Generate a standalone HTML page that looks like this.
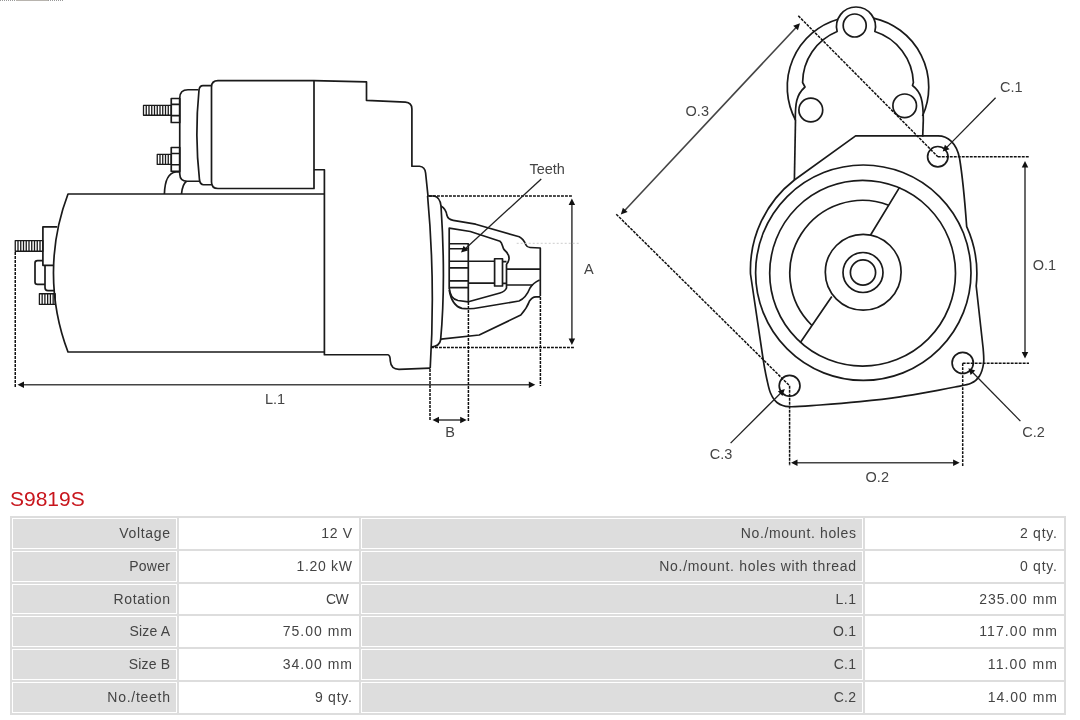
<!DOCTYPE html>
<html><head><meta charset="utf-8">
<style>
html,body{margin:0;padding:0;background:#fff;width:1080px;height:720px;overflow:hidden;}
body{position:relative;font-family:"Liberation Sans",sans-serif;}
svg.draw{position:absolute;left:0;top:0;will-change:transform;}
svg.draw path, svg.draw circle, svg.draw rect{fill:none;stroke:#1a1a1a;stroke-width:1.7;stroke-linejoin:round;}
svg.draw .th{stroke-width:1.3;}
svg.draw .dot{stroke:#111;stroke-width:1.5;stroke-dasharray:2.9 1.1;}
svg.draw .dim{stroke:#444;stroke-width:1.6;}
svg.draw .lead{stroke:#222;stroke-width:1.3;}
svg.draw .ah{fill:#111;stroke:none;}
svg.draw .faint{stroke:#ccc;stroke-width:1;stroke-dasharray:2 2;}
svg.draw text{font-family:"Liberation Sans",sans-serif;font-size:14.5px;fill:#444;}
.title{will-change:transform;position:absolute;left:10px;top:486.5px;font-size:21px;color:#c8161d;line-height:24px;white-space:nowrap;}
table{will-change:transform;position:absolute;left:10px;top:516px;width:1056px;border-collapse:separate;border-spacing:2px;background:#ddd;}
td{border:1px solid #fff;padding:6px 6px;line-height:16.8px;font-size:14px;color:#444;text-align:right;white-space:nowrap;}
td.l{background:#ddd;}
td.v{background:#fff;}
td.c1{width:151px;} td.c2{width:166px;} td.c3{width:488px;} td.c4{width:185px;}
</style></head><body>
<svg class="draw" width="1080" height="500" viewBox="0 0 1080 500">
<path d="M324.4,194 H68 A222,222 0 0 0 68,352 H324.4"/>
<path d="M314,80.6 L366.5,81.9 V100.4 L405.4,102.1 Q411.9,102.5 411.9,109 V166.25 H419.5 Q425,166.8 425.6,173 L428,196"/>
<path d="M314,169.75 H324.4 V354.75 H388 Q390.2,355.2 390.3,361 Q391,369.3 399,369.4 L430.2,368.2"/>
<path d="M427.6,196 Q435.5,282 430.2,368.2"/>
<path d="M427.6,196 H434 Q440,197 441,206 Q446,282 440.6,340 Q439.5,346.5 431,347"/>
<path d="M314,80.6 H218 Q211.5,80.6 211.5,87 V182 Q211.5,188.5 218,188.5 H314 V80.6"/>
<path d="M211.5,85.6 H203 Q199.5,85.6 199,90 Q194.5,135 199.5,180 Q200.3,184.75 203.5,184.75 H211.5"/>
<path d="M198.4,89.75 H188 Q179.75,89.75 179.75,98 V174 Q180,181.25 187,181.25 H199"/>
<path d="M171.25,98.5 H179.75 V122.5 H171.25 Z M171.25,104.4 H179.75 M171.25,115.6 H179.75"/>
<path d="M171.25,147.5 H179.75 V171.25 H171.25 Z M171.25,153.5 H179.75 M171.25,164.75 H179.75"/>
<rect class="th" x="143.5" y="105.4" width="27.75" height="9.85"/>
<path class="th" d="M146.25,105.4 V115.25 M149,105.4 V115.25 M151.75,105.4 V115.25 M154.5,105.4 V115.25 M157.25,105.4 V115.25 M160,105.4 V115.25 M162.75,105.4 V115.25 M165.5,105.4 V115.25 M168.25,105.4 V115.25 "/>
<rect class="th" x="157.25" y="154.4" width="14" height="10"/>
<path class="th" d="M160,154.4 V164.4 M162.75,154.4 V164.4 M165.5,154.4 V164.4 M168.25,154.4 V164.4 "/>
<path d="M164.4,194 Q165,173 176,172 H179.75"/>
<path d="M181.5,194 Q182.5,184 186.5,181.3"/>
<path d="M57.3,226.9 H42.9 V265.3 H54"/>
<path d="M45,265.3 V287.5 Q45,290.6 48,290.6 H54.5"/>
<path d="M42.9,260.6 H37.5 Q35,260.6 35,263 V282 Q35,284.4 37.5,284.4 H45"/>
<rect class="th" x="15.25" y="240.6" width="27.65" height="10.65"/>
<path class="th" d="M18,240.6 V251.25 M20.75,240.6 V251.25 M23.5,240.6 V251.25 M26.25,240.6 V251.25 M29,240.6 V251.25 M31.75,240.6 V251.25 M34.5,240.6 V251.25 M37.25,240.6 V251.25 M40,240.6 V251.25 "/>
<rect class="th" x="39.4" y="293.75" width="15.85" height="10.65"/>
<path class="th" d="M42.15,293.75 V304.4 M44.9,293.75 V304.4 M47.65,293.75 V304.4 M50.4,293.75 V304.4 M53.15,293.75 V304.4 "/>
<path d="M441,206 Q446,209 446.8,215 Q448,219.5 453.2,220.3 L475.6,224.2 L519.2,236.8 Q523.5,239 526,245 Q527,247.3 530,247.5 L540.3,248 V296"/>
<path d="M449.2,289 V228.2 L470.3,231.5 L500,241.3 C502.5,243 502.5,247.5 504,249.5 C507,252 509.5,254.5 509,259 C508.8,261.5 507.5,263 506.5,264.5 V288 Q505,291.5 500,293 L468.4,301.8 L458,300.5 Q450,299 449.2,287.5"/>
<path d="M449.2,243.75 H468.3 V301.8 M449.2,248.75 H468.3 M449.2,261.25 H494.6 M449.2,267.9 H468.3 M449.2,280.8 H468.3 M468.3,283.2 H494.6 M449.2,287.7 H468.3"/>
<path d="M494.6,258.75 H502.5 V286 H494.6 Z"/>
<path d="M502.5,261.7 H506.5 M502.5,283.3 H506.5"/>
<path d="M506.5,269.2 H540.3 M506.5,285 H533"/>
<path d="M449.2,290 Q452,306 462,308.3 Q470,309.5 480,307.5 L519,301 Q526,298 530,288 Q533,283 539.6,280"/>
<path d="M441,339.2 L479.2,335 L520.8,315 Q527,308 529.5,301 Q532,297 536,296.8 H540.3"/>
<path class="dot" d="M15.25,252 L15.25,387"/>
<path style="stroke:#999;stroke-width:1;stroke-dasharray:1 1" d="M0,0.5 H16 M48,0.5 H64"/>
<path style="stroke:#b8b4ae;stroke-width:1" d="M16,0.5 H48"/>
<path class="dim" d="M21.5,384.75 L531.3,384.75"/>
<path class="ah" d="M535.3,384.75 L528.8,388 L528.8,381.5 Z"/>
<path class="ah" d="M17.5,384.75 L24,381.5 L24,388 Z"/>
<path class="dot" d="M540.4,297 L540.4,386"/>
<path class="dot" d="M429,196 L573,196"/>
<path class="dot" d="M431,347.5 L575,347.5"/>
<path class="dim" d="M571.9,202.5 L571.9,341"/>
<path class="ah" d="M571.9,345 L568.65,338.5 L575.15,338.5 Z"/>
<path class="ah" d="M571.9,198.5 L575.15,205 L568.65,205 Z"/>
<path class="dot" d="M430,369 L430,421"/>
<path class="dot" d="M468.4,302 L468.4,421"/>
<path class="dim" d="M436.5,420 L462.7,420"/>
<path class="ah" d="M466.7,420 L460.2,423.25 L460.2,416.75 Z"/>
<path class="ah" d="M432.5,420 L439,416.75 L439,423.25 Z"/>
<path class="faint" d="M516.7,243.3 H580"/>
<path class="lead" d="M541.25,179 L465,249"/>
<path class="ah" d="M461,252.6 L463.59,245.81 L467.99,250.6 Z"/>
<path d="M795.5,120 A70.5,70.5 0 0 1 838,19.2"/>
<path d="M873.3,18.1 A70.5,70.5 0 0 1 922.5,116"/>
<path d="M795.3,120 C795.3,104 796,95 805,87 L802.6,82.5 A55.5,55.5 0 0 1 837.15,31.5 A19.5,19.5 0 1 1 874.85,31.5 A55.5,55.5 0 0 1 913.4,82.5 L912.5,85.5 C921,92 923.3,100 923.3,120"/>
<circle cx="854.7" cy="25.5" r="11.5"/>
<circle cx="810.8" cy="110" r="11.9"/>
<circle cx="904.7" cy="105.8" r="11.8"/>
<circle cx="937.8" cy="156.7" r="10.2"/>
<circle cx="962.7" cy="362.9" r="10.6"/>
<circle cx="789.6" cy="385.8" r="10.4"/>
<path d="M795.5,120 L794.4,180"/>
<path d="M923.3,120 L922.7,136.7"/>
<path d="M794.4,180 L855.6,135.9 H938 C948,135.9 956.5,143 959.5,158 C961.5,170 964,190 966.7,226.7 A113.7,113.7 0 0 1 976.2,286 L983.2,349  C983.27,351.33 984.22,358.5 983.6,363 C982.98,367.5 981.6,372.62 979.5,376 C977.4,379.38 975.08,381.47 971,383.3 C966.92,385.13 960.53,385.83 955,387 C949.47,388.17 946.97,388.67 937.8,390.3 C928.63,391.93 912.97,394.92 900,396.8 C887.03,398.68 873.33,400.23 860,401.6 C846.67,402.97 831.83,404.15 820,405 C808.17,405.85 796.17,407.12 789,406.7 C781.83,406.28 780.08,404.78 777,402.5 C773.92,400.22 772.2,396.92 770.5,393 C768.8,389.08 767.78,383.17 766.8,379 C765.82,374.83 765.32,372 764.6,368 C763.88,364 762.85,357.17 762.5,355 L750.5,274 A113.7,113.7 0 0 1 794.4,180"/>
<circle cx="863" cy="272.5" r="12.6"/>
<circle cx="863" cy="272.5" r="20"/>
<circle cx="862.6" cy="273.2" r="92.9"/>
<circle cx="863.3" cy="272.7" r="107.7"/>
<circle cx="863.2" cy="272.3" r="37.9"/>
<path d="M870.4,235.3 L899.71,187.08 M831.8,296.4 L800.2,342.8"/>
<path d="M888.68,205.23 A72.8,72.8 0 0 0 811.97,325.51"/>
<path class="dim" d="M623.53,211.68 L797.27,26.22"/>
<path class="ah" d="M800,23.3 L797.93,30.27 L793.18,25.82 Z"/>
<path class="ah" d="M620.8,214.6 L622.87,207.63 L627.62,212.08 Z"/>
<path class="dot" d="M798.3,15.8 L937.8,156.7"/>
<path class="dot" d="M616.25,214.2 L789.6,385.8"/>
<path class="dot" d="M937.8,156.7 L1029,156.7"/>
<path class="dot" d="M962.7,363.2 L1029,363.2"/>
<path class="dot" d="M962.7,363.2 L962.7,466"/>
<path class="dot" d="M789.6,385.8 L789.6,466"/>
<path class="dim" d="M1025,165 L1025,354.5"/>
<path class="ah" d="M1025,358.5 L1021.75,352 L1028.25,352 Z"/>
<path class="ah" d="M1025,161 L1028.25,167.5 L1021.75,167.5 Z"/>
<path class="dim" d="M795,462.7 L955.6,462.7"/>
<path class="ah" d="M959.6,462.7 L953.1,465.95 L953.1,459.45 Z"/>
<path class="ah" d="M791,462.7 L797.5,459.45 L797.5,465.95 Z"/>
<path class="lead" d="M995.6,97.8 L945.5,148.6"/>
<path class="ah" d="M942.7,151.6 L944.94,144.69 L949.57,149.24 Z"/>
<path class="lead" d="M1020.4,421.1 L971.2,371"/>
<path class="ah" d="M968.4,368.2 L975.27,370.56 L970.64,375.11 Z"/>
<path class="lead" d="M730.6,443.1 L781.8,392"/>
<path class="ah" d="M784.8,389 L782.5,395.89 L777.9,391.29 Z"/>
<text x="529.4" y="173.75">Teeth</text>
<text x="583.9" y="274.4">A</text>
<text x="265" y="404">L.1</text>
<text x="445.3" y="436.7">B</text>
<text x="685.6" y="115.6">O.3</text>
<text x="1000" y="91.8">C.1</text>
<text x="1032.7" y="270">O.1</text>
<text x="1022.2" y="437.1">C.2</text>
<text x="709.8" y="459.2">C.3</text>
<text x="865.6" y="482.2">O.2</text>
</svg>
<div class="title">S9819S</div>
<table>
<tr><td class="l c1"><span style="letter-spacing:0.652px;margin-right:-0.652px">Voltage</span></td><td class="v c2"><span style="letter-spacing:0.632px;margin-right:-0.632px">12 V</span></td><td class="l c3"><span style="letter-spacing:0.626px;margin-right:-0.626px">No./mount. holes</span></td><td class="v c4"><span style="letter-spacing:0.777px;margin-right:-0.777px">2 qty.</span></td></tr>
<tr><td class="l c1"><span style="letter-spacing:0.280px;margin-right:-0.280px">Power</span></td><td class="v c2"><span style="letter-spacing:0.691px;margin-right:-0.691px">1.20 kW</span></td><td class="l c3"><span style="letter-spacing:0.684px;margin-right:-0.684px">No./mount. holes with thread</span></td><td class="v c4"><span style="letter-spacing:0.777px;margin-right:-0.777px">0 qty.</span></td></tr>
<tr><td class="l c1"><span style="letter-spacing:0.614px;margin-right:-0.614px">Rotation</span></td><td class="v c2"><span style="letter-spacing:-0.556px;margin-right:0.556px">CW&nbsp;</span></td><td class="l c3"><span style="letter-spacing:0.467px;margin-right:-0.467px">L.1</span></td><td class="v c4"><span style="letter-spacing:0.972px;margin-right:-0.972px">235.00 mm</span></td></tr>
<tr><td class="l c1"><span style="letter-spacing:0.153px;margin-right:-0.153px">Size A</span></td><td class="v c2"><span style="letter-spacing:0.996px;margin-right:-0.996px">75.00 mm</span></td><td class="l c3"><span style="letter-spacing:0.193px;margin-right:-0.193px">O.1</span></td><td class="v c4"><span style="letter-spacing:1.101px;margin-right:-1.101px">117.00 mm</span></td></tr>
<tr><td class="l c1"><span style="letter-spacing:0.158px;margin-right:-0.158px">Size B</span></td><td class="v c2"><span style="letter-spacing:0.996px;margin-right:-0.996px">34.00 mm</span></td><td class="l c3"><span style="letter-spacing:0.257px;margin-right:-0.257px">C.1</span></td><td class="v c4"><span style="letter-spacing:1.144px;margin-right:-1.144px">11.00 mm</span></td></tr>
<tr><td class="l c1"><span style="letter-spacing:0.735px;margin-right:-0.735px">No./teeth</span></td><td class="v c2"><span style="letter-spacing:0.777px;margin-right:-0.777px">9 qty.</span></td><td class="l c3"><span style="letter-spacing:0.257px;margin-right:-0.257px">C.2</span></td><td class="v c4"><span style="letter-spacing:0.996px;margin-right:-0.996px">14.00 mm</span></td></tr>
</table>
</body></html>
